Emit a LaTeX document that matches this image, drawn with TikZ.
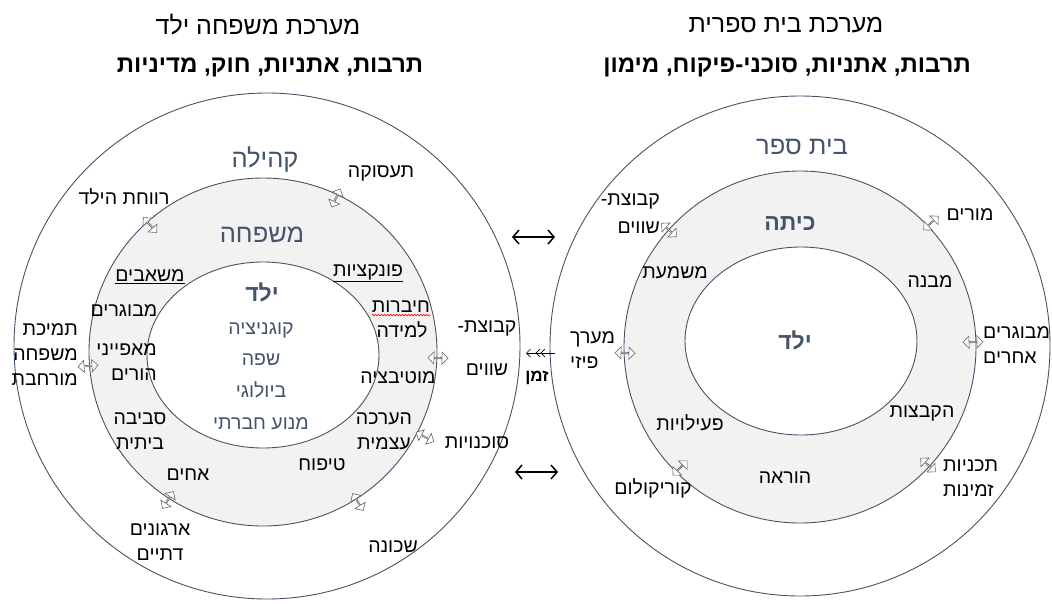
\documentclass[tikz,border=0pt]{standalone}
\usepackage{fontspec}
\setmainfont{Liberation Sans}[Script=Hebrew]
\usetikzlibrary{arrows.meta,shapes.arrows,decorations.pathmorphing}
\TeXXeTstate=1
\newcommand{\heb}[1]{\beginR #1\endR}
\definecolor{ringblue}{RGB}{68,84,106}
\definecolor{ringfill}{RGB}{242,242,242}
\definecolor{glyphgray}{RGB}{100,100,100}

\begin{document}
\begin{tikzpicture}[x=1pt, y=-1pt,
    ring/.style={draw=ringblue, line width=0.9pt},
    lbl/.style={font=\fontsize{19.5}{25}\selectfont, inner sep=0pt, align=center},
    title/.style={font=\fontsize{25}{28}\selectfont, inner sep=0pt},
    hdr/.style={font=\fontsize{24}{28}\selectfont\bfseries, inner sep=0pt},
    big/.style={text=ringblue, font=\fontsize{25.5}{28}\selectfont, inner sep=0pt},
    bigb/.style={text=ringblue, font=\fontsize{23}{26}\selectfont\bfseries, inner sep=0pt},
    trait/.style={text=ringblue, font=\fontsize{19.5}{31.7}\selectfont, align=center, inner sep=0pt},
    dblarr/.style={double arrow, draw=glyphgray, fill=white, line width=0.6pt,
        minimum height=20pt, minimum width=12pt, inner sep=0pt,
        double arrow head extend=2.5pt, double arrow head indent=0pt},
    link/.style={line width=1.5pt, {Straight Barb[length=6pt,width=14pt]}-{Straight Barb[length=6pt,width=14pt]}}
  ]
  \useasboundingbox (0,0) rectangle (1052,603);

  % circle centres
  \coordinate (fam) at (267,346);
  \coordinate (famring) at (263,352);
  \coordinate (famkid) at (263,355);
  \coordinate (sch) at (800,346);
  \coordinate (schring) at (800,347);
  \coordinate (schkid) at (801,341);

  % family-child system
  \draw[ring, fill=white] (fam) circle [radius=253pt];
  \draw[ring, fill=ringfill] (famring) circle [radius=174pt];
  \draw[ring, fill=white] (famkid) ellipse [x radius=116pt, y radius=93pt];

  % school system
  \draw[ring, fill=white] (sch) circle [radius=250pt];
  \draw[ring, fill=ringfill] (schring) circle [radius=176pt];
  \draw[ring, fill=white] (schkid) ellipse [x radius=116pt, y radius=94pt];

  % titles
  \node[title] (famtitle) at (258,25) {\heb{מערכת משפחה ילד}};
  \node[hdr] (famsub) at (270,67) {\heb{תרבות, אתניות, חוק, מדיניות}};
  \node[title] (schtitle) at (786,25) {\heb{מערכת בית ספרית}};
  \node[hdr] (schsub) at (787,67) {\heb{תרבות, אתניות, סוכני-פיקוח, מימון}};

  % family side labels
  \node[big] (kehila) at (265,160) {\heb{קהילה}};
  \node[big] (mishpacha) at (262,235) {\heb{משפחה}};
  \node[bigb] (yeled) at (262,292) {\heb{ילד}};
  \node[trait] (traits) at (261,376) {\heb{קוגניציה}\\\heb{שפה}\\\heb{ביולוגי}\\\heb{מנוע חברתי}};

  \node[lbl] (work) at (381,173) {\heb{תעסוקה}};
  \node[lbl] (welfare) at (124,197) {\heb{רווחת הילד}};
  \node[lbl] (resources) at (150,277) {\underline{\heb{משאבים}}};
  \node[lbl] (functions) at (368,273) {\underline{\heb{פונקציות}}};
  \node[lbl] (social) at (401,307) {\heb{חיברות}};
  \node[lbl] (learn) at (402,330) {\heb{למידה}};
  \draw[red, line width=0.6pt, decorate, decoration={snake, amplitude=0.8pt, segment length=3pt}]
    ([yshift=-2pt]social.south west) -- ([yshift=-2pt]social.south east);
  \node[lbl] (adults) at (124,311) {\heb{מבוגרים}};
  \node[lbl, anchor=east, align=right] (parents) at (157,362.5) {\heb{מאפייני}\\\heb{הורים}};
  \node[lbl] (home) at (140,431) {\heb{סביבה}\\\heb{ביתית}};
  \node[lbl, anchor=east, align=right] (extended) at (78,355) {\heb{תמיכת}\\\heb{משפחה}\\\heb{מורחבת}};
  \node[lbl] (siblings) at (188,475) {\heb{אחים}};
  \node[lbl] (religious) at (160,542.5) {\heb{ארגונים}\\\heb{דתיים}};
  \node[lbl] (nurture) at (322,465) {\heb{טיפוח}};
  \node[lbl] (motivation) at (398,378) {\heb{מוטיבציה}};
  \node[lbl] (esteem) at (384,431.5) {\heb{הערכה}\\\heb{עצמית}};
  \node[lbl] (peersL) at (487,348.5) {\heb{קבוצת-}\\[18pt]\heb{שווים}};
  \node[lbl] (agencies) at (477,443) {\heb{סוכנויות}};
  \node[lbl] (neighbour) at (393,547) {\heb{שכונה}};

  % family side ring arrows
  \node[dblarr, rotate=64.6] (fa1) at (336,198) {};
  \node[dblarr, rotate=131.7] (fa2) at (150,225) {};
  \node[dblarr, rotate=184.6] (fa3) at (88,366) {};
  \node[dblarr, rotate=-2] (fa4) at (438,358) {};
  \node[dblarr, rotate=-27.7] (fa5) at (425,437) {};
  \node[dblarr, rotate=-57.7] (fa6) at (358,502) {};
  \node[dblarr, rotate=-122.7] (fa7) at (168,500) {};

  % school side labels
  \node[big] (school) at (802,147) {\heb{בית ספר}};
  \node[bigb] (classroom) at (790,224) {\heb{כיתה}};
  \node[bigb] (yeledS) at (795,340) {\heb{ילד}};
  \node[lbl, anchor=east, align=right] (peersR) at (660,214) {\heb{קבוצת-}\\[3pt]\heb{שווים}};
  \node[lbl] (discipline) at (675,273) {\heb{משמעת}};
  \node[lbl] (teachers) at (970,215) {\heb{מורים}};
  \node[lbl] (structure) at (930,282) {\heb{מבנה}};
  \node[lbl, anchor=west, align=left] (physical) at (570,350.5) {\heb{מערך}\\\heb{פיזי}};
  \node[lbl, anchor=west, align=left] (others) at (983,345.5) {\heb{מבוגרים}\\\heb{אחרים}};
  \node[lbl] (activities) at (690,423) {\heb{פעילויות}};
  \node[lbl] (curriculum) at (653,488) {\heb{קוריקולום}};
  \node[lbl] (grouping) at (922,413) {\heb{הקבצות}};
  \node[lbl] (teaching) at (785,478) {\heb{הוראה}};
  \node[lbl, anchor=west, align=left] (programs) at (943,478.5) {\heb{תכניות}\\\heb{זמינות}};

  % school side ring arrows
  \node[dblarr, rotate=138] (sa1) at (669,230) {};
  \node[dblarr, rotate=43.4] (sa2) at (931,223) {};
  \node[dblarr, rotate=178] (sa3) at (625,353) {};
  \node[dblarr, rotate=2] (sa4) at (973,342) {};
  \node[dblarr, rotate=-134.8] (sa5) at (680,468) {};
  \node[dblarr, rotate=-42.7] (sa6) at (928,465) {};

  % links between the two systems
  \coordinate (topL) at (512,237);
  \coordinate (topR) at (555,237);
  \coordinate (botL) at (515,472);
  \coordinate (botR) at (558,472);
  \draw[link] (topL) -- (topR);
  \draw[link] (botL) -- (botR);

  % time
  \coordinate (timeL) at (521,353);
  \coordinate (timeR) at (555,353);
  \draw[line width=0.6pt, {Straight Barb[length=4pt,width=8pt,sep=5pt] Straight Barb[length=4pt,width=8pt,sep=5pt] Straight Barb[length=4pt,width=8pt]}-] (timeL) -- (timeR);
  \node[font=\fontsize{17}{20}\selectfont\bfseries, inner sep=0pt] (time) at (537,378) {\heb{זמן}};
\end{tikzpicture}
\end{document}
